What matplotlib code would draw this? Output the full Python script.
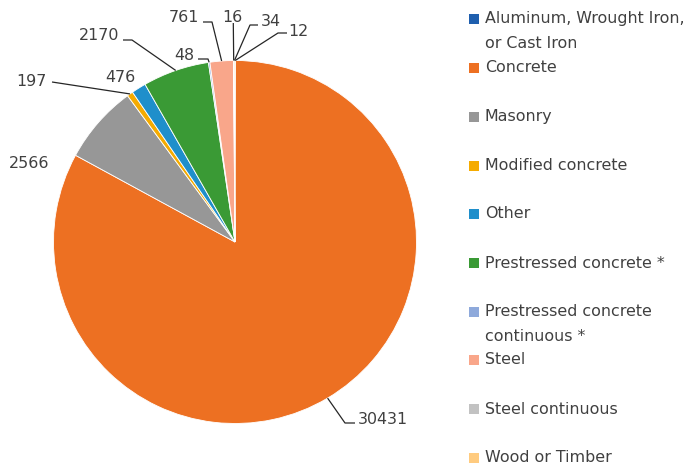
import numpy as np
import matplotlib
matplotlib.use("Agg")
import matplotlib.pyplot as plt
from matplotlib.patches import Rectangle

# Bridge counts by main structure material
categories = [
    "Aluminum, Wrought Iron,\nor Cast Iron",
    "Concrete",
    "Masonry",
    "Modified concrete",
    "Other",
    "Prestressed concrete *",
    "Prestressed concrete\ncontinuous *",
    "Steel",
    "Steel continuous",
    "Wood or Timber",
]
counts = [12, 30431, 2566, 197, 476, 2170, 48, 761, 16, 34]
colors = ["#1f5fae", "#ed7022", "#979797", "#f5ab00", "#1f8fcb",
          "#3a9a35", "#8ea9db", "#f9a68a", "#c2c2c2", "#ffcb7f"]

W, H = 693, 470
fig = plt.figure(figsize=(W / 100, H / 100), dpi=100)
ax = fig.add_axes([0, 0, 1, 1])

plt.rcParams["font.family"] = ["DejaVu Sans"]
TXT = "#404040"
FS = 11.4


def py(y):
    return H - y


cx, cy, R = 235, py(242), 181.5
wedges, _ = ax.pie(counts, colors=colors, startangle=90, counterclock=False,
                   radius=R, center=(cx, cy), frame=True,
                   wedgeprops=dict(edgecolor="white", linewidth=0.6))
ax.set_xlim(0, W)
ax.set_ylim(0, H)
ax.set_aspect("equal")
ax.axis("off")

# Data-label placement (text centre) and leader-line elbow, in pixel layout
label_pos = [(298, 32), (383, 419), (29, 163.5), (31, 81), (120, 77),
             (99, 36), (184, 56), (184, 17.5), (232, 17.5), (271, 21.5)]
elbows = [[(278, 33), (287, 33)],
          [(345, 423), (355, 423)],
          None,
          [(52, 82)],
          None,
          [(132, 40), (123, 40)],
          [(208, 59), (198, 59)],
          [(212, 22), (203, 22)],
          [(233.3, 23)],
          [(250, 25), (258, 25)]]

for w, val, pos, elb in zip(wedges, counts, label_pos, elbows):
    mid = np.deg2rad((w.theta1 + w.theta2) / 2)
    ax.text(pos[0], py(pos[1]), str(val), ha="center", va="center",
            fontsize=FS, color=TXT)
    if elb:
        xs = [cx + R * np.cos(mid)] + [p[0] for p in elb]
        ys = [cy + R * np.sin(mid)] + [py(p[1]) for p in elb]
        ax.plot(xs, ys, color="#262626", linewidth=0.9, solid_capstyle="butt")

# Legend
legend_y = [18.5, 68, 117, 166, 214, 263, 311.5, 360, 409, 458]
line_gap = 25
for name, col, y in zip(categories, colors, legend_y):
    ax.add_patch(Rectangle((469, py(y) - 5), 10, 10, facecolor=col,
                           edgecolor="none"))
    for k, line in enumerate(name.split("\n")):
        ax.text(485, py(y + k * line_gap), line, ha="left", va="center",
                fontsize=FS, color=TXT)

fig.savefig("out.png", dpi=100)
